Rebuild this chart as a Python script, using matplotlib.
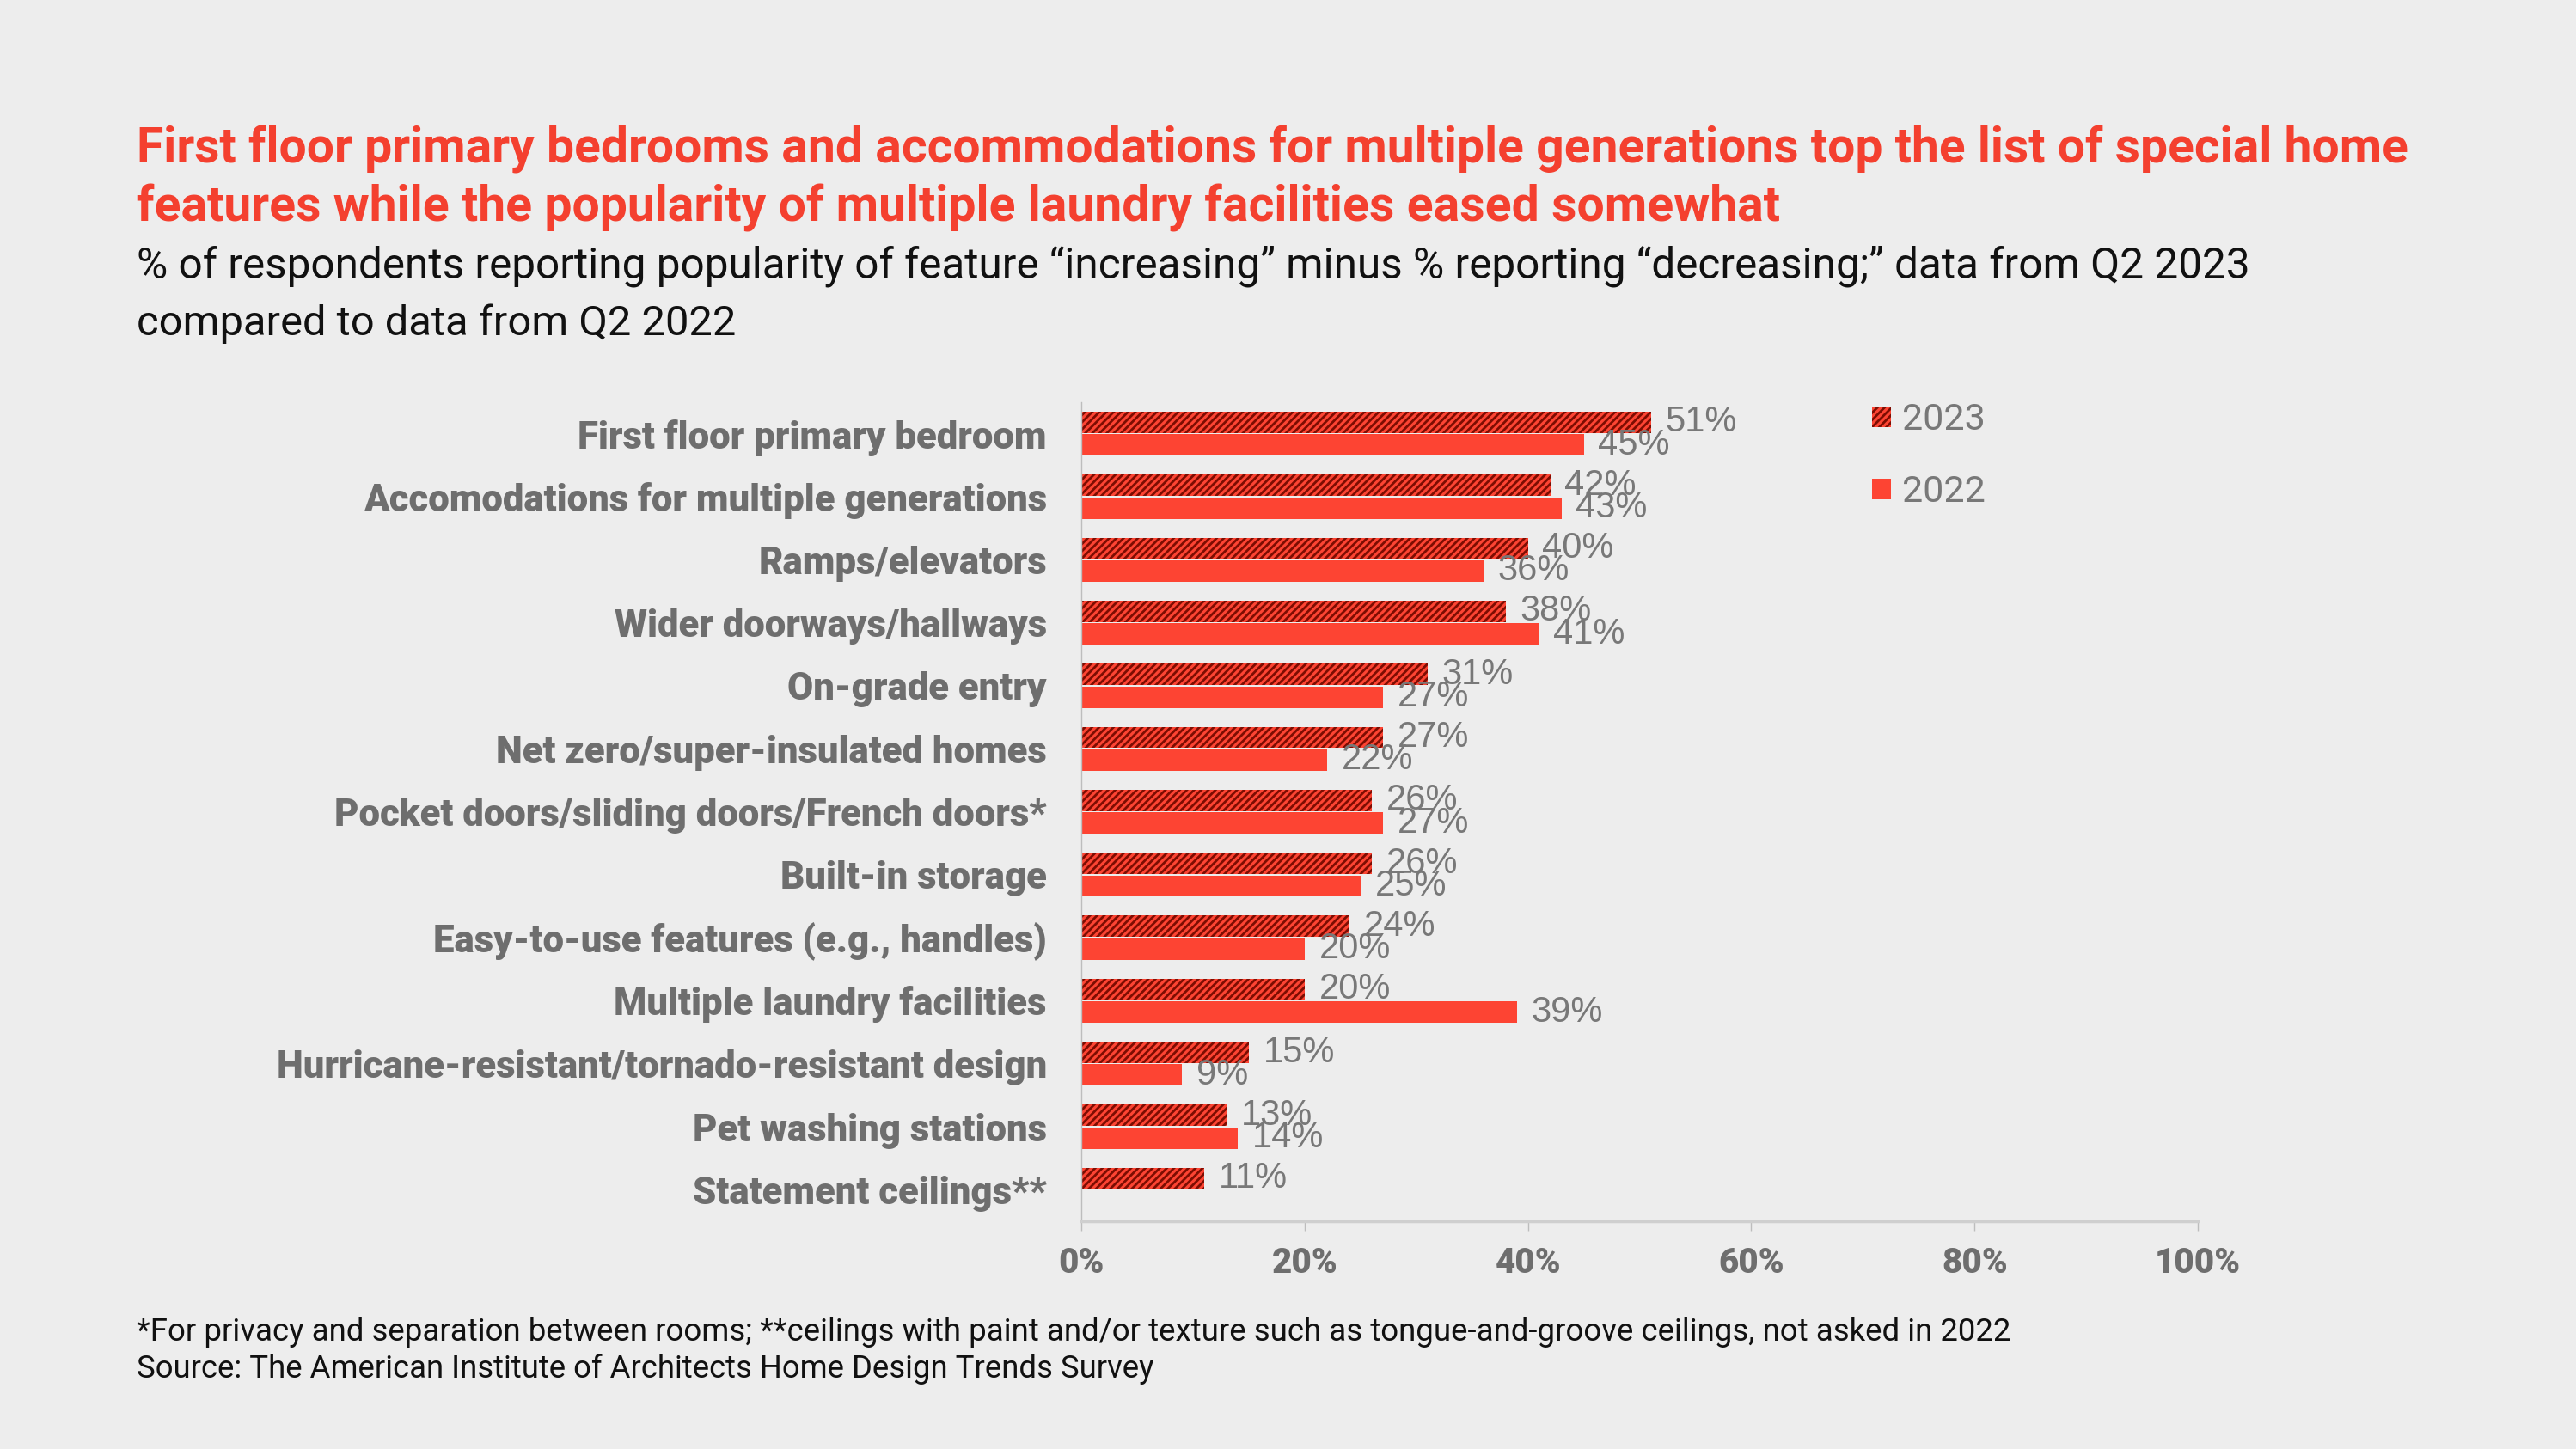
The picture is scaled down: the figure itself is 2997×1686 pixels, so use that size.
import numpy as np
import matplotlib
matplotlib.use('Agg')
import matplotlib.pyplot as plt
from matplotlib.patches import Patch

# data
categories = [
    'First floor primary bedroom',
    'Accomodations for multiple generations',
    'Ramps/elevators',
    'Wider doorways/hallways',
    'On-grade entry',
    'Net zero/super-insulated homes',
    'Pocket doors/sliding doors/French doors*',
    'Built-in storage',
    'Easy-to-use features (e.g., handles)',
    'Multiple laundry facilities',
    'Hurricane-resistant/tornado-resistant design',
    'Pet washing stations',
    'Statement ceilings**',
]
vals_2023 = [51, 42, 40, 38, 31, 27, 26, 26, 24, 20, 15, 13, 11]
vals_2022 = [45, 43, 36, 41, 27, 22, 27, 25, 20, 39, 9, 14, None]  # ceilings not asked in 2022
xticks = [0, 20, 40, 60, 80, 100]

bg = '#ededed'
red = '#fd4433'
dark = '#7d0d02'
gray = '#6e6e6e'
narrow = ['Liberation Sans Narrow', 'Roboto', 'DejaVu Sans']
roboto = ['Roboto', 'DejaVu Sans']
regular = ['Liberation Sans', 'DejaVu Sans']

plt.rcParams['hatch.color'] = dark
plt.rcParams['hatch.linewidth'] = 2.0

fig = plt.figure(figsize=(29.97, 16.86), dpi=100)
fig.set_facecolor(bg)
ax = fig.add_axes([0.4198, 0.1572, 0.4334, 0.5652])
ax.set_facecolor(bg)

y = np.arange(len(categories))
h = 0.34
off = 0.18

ax.barh(y - off, vals_2023, height=h, color=red, hatch='////', edgecolor=dark, linewidth=0)
v22 = [v if v is not None else 0 for v in vals_2022]
ax.barh(y + off, v22, height=h, color=red, linewidth=0)

# value labels
for i, v in enumerate(vals_2023):
    ax.annotate(f'{v}%', xy=(v, i - off), xytext=(12, 0), textcoords='offset points',
                va='center', ha='left', fontsize=30, color='#787878', family=regular)
for i, v in enumerate(vals_2022):
    if v is None:
        continue
    ax.annotate(f'{v}%', xy=(v, i + off), xytext=(12, 0), textcoords='offset points',
                va='center', ha='left', fontsize=30, color='#787878', family=regular)

ax.set_xlim(0, 100)
ax.set_ylim(len(categories) - 0.5, -0.5)
ax.set_yticks(y)
ax.set_yticklabels(categories, fontsize=31.5, fontweight='black', color=gray, family=roboto)
ax.tick_params(axis='y', length=0, pad=29)
ax.set_xticks(xticks)
ax.set_xticklabels([f'{t}%' for t in xticks], fontsize=29, fontweight='black', color=gray, family=roboto)
ax.tick_params(axis='x', length=8, width=1, color='#bdbdbd', pad=13)

for s in ['top', 'right']:
    ax.spines[s].set_visible(False)
ax.spines['left'].set_color('#bdbdbd')
ax.spines['left'].set_linewidth(1)
ax.spines['bottom'].set_color('#cfcfcf')
ax.spines['bottom'].set_linewidth(2.5)

handles = [Patch(facecolor=red, hatch='////', edgecolor=dark, linewidth=0, label='2023'),
           Patch(facecolor=red, linewidth=0, label='2022')]
leg = fig.legend(handles=handles, loc='upper left', bbox_to_anchor=(0.7197, 0.735),
                 frameon=False, handlelength=0.5, handleheight=0.5, handletextpad=0.3,
                 labelspacing=1.0, borderpad=0, prop={'family': narrow, 'size': 31})
for t in leg.get_texts():
    t.set_color('#787878')

renderer = fig.canvas.get_renderer()

# put a text line at x,y (pixels from top-left) and size it to the width seen in the chart
def fit_text(s, x, y, width, **kw):
    t = fig.text(x / 2997, 1 - y / 1686, s, va='baseline', **kw)
    w = t.get_window_extent(renderer).width
    t.set_fontsize(t.get_fontsize() * width / w)
    return t

fit_text('First floor primary bedrooms and accommodations for multiple generations top the list of special home',
         159, 190, 2641, fontsize=35, fontweight='bold', color='#f4402f', family=roboto)
fit_text('features while the popularity of multiple laundry facilities eased somewhat',
         159, 257, 1913, fontsize=35, fontweight='bold', color='#f4402f', family=roboto)
fit_text('% of respondents reporting popularity of feature \u201cincreasing\u201d minus % reporting \u201cdecreasing;\u201d data from Q2 2023',
         159, 323, 2460, fontsize=29, color='#111111', family=roboto)
fit_text('compared to data from Q2 2022', 159, 390, 697, fontsize=29, color='#111111', family=roboto)

# footnotes
fit_text('*For privacy and separation between rooms; **ceilings with paint and/or texture such as tongue-and-groove ceilings, not asked in 2022',
         159, 1560, 2186, fontsize=25, color='#111111', family=narrow)
fit_text('Source: The American Institute of Architects Home Design Trends Survey',
         159, 1603, 1183, fontsize=25, color='#111111', family=narrow)

fig.savefig('out.png', dpi=100, facecolor=bg)
